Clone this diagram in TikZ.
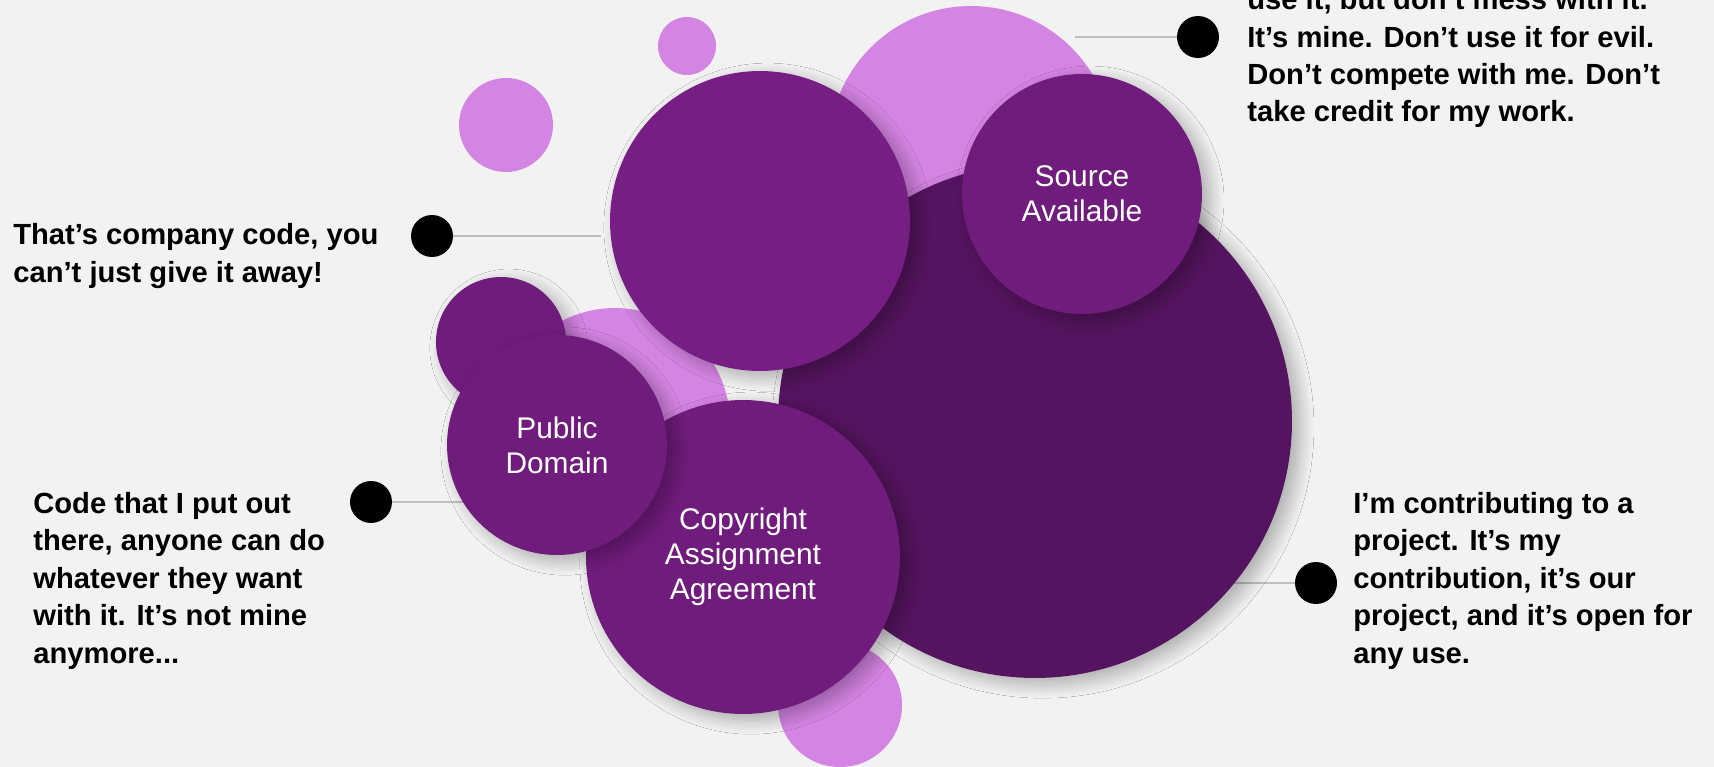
\documentclass[tikz,border=0pt]{standalone}
\usepackage{fontspec}
\setmainfont{Liberation Sans}
\usetikzlibrary{shadows.blur,positioning}

\definecolor{lilac}{RGB}{212,132,226}
\definecolor{plum}{RGB}{112,28,124}
\definecolor{plumlight}{RGB}{118,30,132}
\definecolor{plumdark}{RGB}{85,20,95}
\definecolor{paper}{RGB}{242,242,242}
\definecolor{rulegray}{RGB}{190,190,190}

\tikzset{
  bubble/.style={circle, inner sep=0pt, align=center, text=white,
    font=\fontsize{17}{19.8}\selectfont},
  lifted/.style={blur shadow={shadow xshift=4.5pt, shadow yshift=-3.5pt,
    shadow blur radius=8pt, shadow blur steps=16, shadow opacity=30}},
  dot/.style={circle, fill=black, minimum size=0.84cm, inner sep=0pt},
  note/.style={anchor=base west, align=left, inner sep=0pt,
    font=\fontsize{16.6}{21.3}\selectfont\bfseries},
  leader/.style={draw=rulegray, line width=0.8pt},
}

\begin{document}
\begin{tikzpicture}[x=0.02cm, y=-0.02cm]
	\fill[paper] (0,0) rectangle (1714,767);
	\useasboundingbox (0,0) rectangle (1714,767);

	% leaders first, the bubbles cover their inner ends
	\coordinate (e1) at (1075,37);
	\coordinate (e2) at (601,236);
	\coordinate (e3) at (470,502);
	\coordinate (e4) at (1230,583);

	\node[dot] (d1) at (1198,37) {};
	\node[dot] (d2) at (432,236) {};
	\node[dot] (d3) at (371,502) {};
	\node[dot] (d4) at (1316,583) {};

	\draw[leader] (d1) -- (e1);
	\draw[leader] (d2) -- (e2);
	\draw[leader] (d3) -- (e3);
	\draw[leader] (d4) -- (e4);

	\begin{scope}[every node/.style={bubble}]
		\node[fill=lilac, minimum size=5.68cm] (L1) at (971,148) {};
		\node[fill=lilac, minimum size=4.6cm] (L2) at (615,423) {};
		\node[fill=lilac, minimum size=2.48cm] (L3) at (840,705) {};
		\node[fill=lilac, minimum size=1.16cm] (L4) at (687,46) {};
		\node[fill=lilac, minimum size=1.88cm] (L5) at (506,125) {};

		\node[lifted, fill=plumdark, minimum size=10.28cm] (open) at (1035,421) {};
		\node[lifted, fill=plum, minimum size=2.6cm] (P1) at (501,342) {};
		\node[lifted, fill=plum, minimum size=6.28cm] (caa) at (743,557) {Copyright\\Assignment\\Agreement};
		\node[lifted, fill=plum, minimum size=4.4cm] (pd) at (557,445) {Public\\Domain};
		\node[lifted, fill=plumlight, minimum size=6cm] (corp) at (760,221) {};
		\node[lifted, fill=plum, minimum size=4.8cm] (sa) at (1082,194) {Source\\Available};
	\end{scope}

	% notes hang from the baseline of their last line
	\node[note] (t1) at (1247,122) {use it, but don’t mess with it.\\It’s mine. Don’t use it for evil.\\Don’t compete with me. Don’t\\take credit for my work.};
	\node[note] (t2) at (13,282) {That’s company code, you\\can’t just give it away!};
	\node[note] (t3) at (33,663) {Code that I put out\\there, anyone can do\\whatever they want\\with it. It’s not mine\\anymore...};
	\node[note] (t4) at (1353,663) {I’m contributing to a\\project. It’s my\\contribution, it’s our\\project, and it’s open for\\any use.};
\end{tikzpicture}
\end{document}
